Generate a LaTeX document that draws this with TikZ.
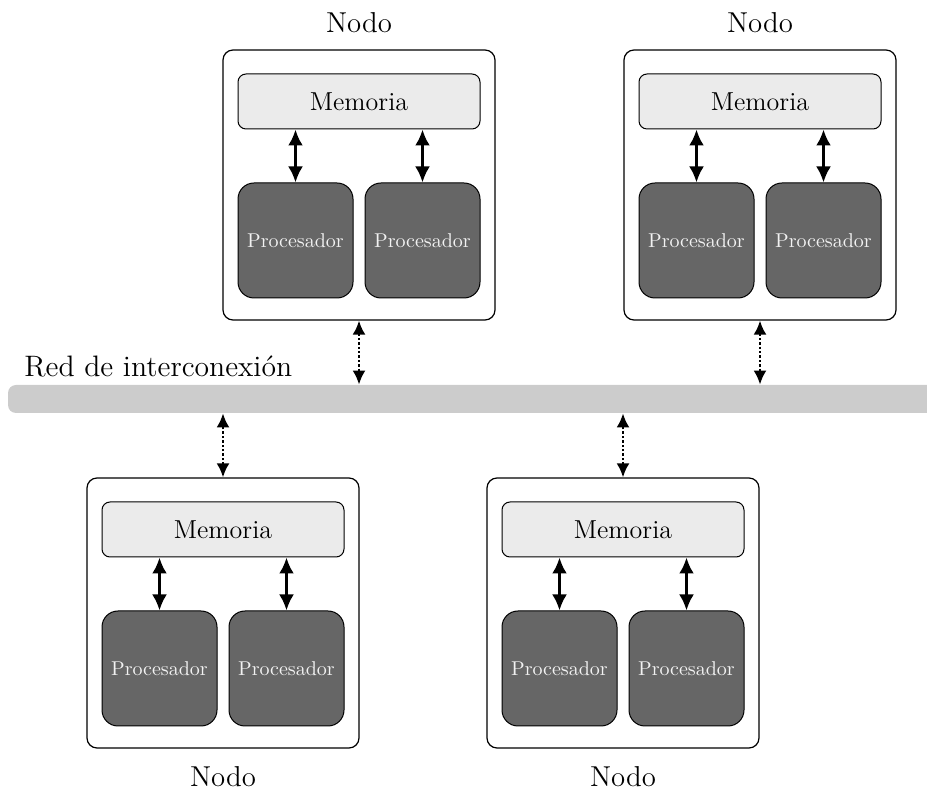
\documentclass[tikz,border=0pt]{standalone}
\usetikzlibrary{arrows.meta}
\definecolor{memfill}{HTML}{EBEBEB}
\definecolor{procfill}{HTML}{666666}
\definecolor{busfill}{HTML}{CCCCCC}
\tikzset{
  nodebox/.style={draw, rounded corners=5pt, line width=0.6pt,
    minimum width=136pt, minimum height=135pt, inner sep=0pt},
  membox/.style={draw, fill=memfill, rounded corners=4pt, line width=0.5pt,
    minimum width=121pt, minimum height=27.5pt, inner sep=0pt,
    font=\fontsize{13}{15}\selectfont},
  procbox/.style={draw, fill=procfill, rounded corners=8pt, line width=0.5pt,
    minimum width=57.5pt, minimum height=57.5pt, inner sep=0pt,
    text=white!95!black, font=\normalsize},
  memlink/.style={{Latex[length=8pt,width=7.5pt]}-{Latex[length=8pt,width=7.5pt]},
    line width=1.5pt},
  buslink/.style={{Latex[length=7pt,width=6.5pt]}-{Latex[length=7pt,width=6.5pt]},
    line width=1.2pt, densely dotted},
  nodolabel/.style={font=\Large, inner sep=3.33pt},
  busbar/.style={fill=busfill, rounded corners=4pt, minimum width=469pt,
    minimum height=14pt, inner sep=0pt},
}
% One SMP node: #1 name, #2 left x, #3 top y, #4 label placement, #5 anchor
\newcommand\smpnode[5]{%
  \node[nodebox] (#1) at (#2+136, #3+135) {};
  \node[membox] (#1m) at (#2+136, #3+51.5) {Memoria};
  \node[procbox] (#1p1) at (#2+72.5, #3+190.5) {Procesador};
  \node[procbox] (#1p2) at (#2+199.5, #3+190.5) {Procesador};
  \draw[memlink] (#1p1.north) -- (#1p1.north |- #1m.south);
  \draw[memlink] (#1p2.north) -- (#1p2.north |- #1m.south);
  \node[nodolabel, #4] (#1lab) at (#1.#5) {Nodo};
}
\begin{document}
\begin{tikzpicture}[x=0.5pt, y=-0.5pt]
  \useasboundingbox (0,0) rectangle (927,790);
  % interconnection bus
  \node[busbar] (bus) at (477, 399) {};
  \node[font=\fontsize{14.8}{17}\selectfont, anchor=base west, inner sep=0pt] (buslab) at (24, 377) {Red de interconexión};
  % the four nodes
  \smpnode{n1}{223}{50}{above=4.7pt}{north}
  \smpnode{n2}{624}{50}{above=4.7pt}{north}
  \smpnode{n3}{87}{478}{below=5.5pt}{south}
  \smpnode{n4}{487}{478}{below=5.5pt}{south}
  % links to the bus
  \draw[buslink] (n1.south) -- (n1.south |- bus.north);
  \draw[buslink] (n2.south) -- (n2.south |- bus.north);
  \draw[buslink] (n3.north) -- (n3.north |- bus.south);
  \draw[buslink] (n4.north) -- (n4.north |- bus.south);
\end{tikzpicture}
\end{document}
